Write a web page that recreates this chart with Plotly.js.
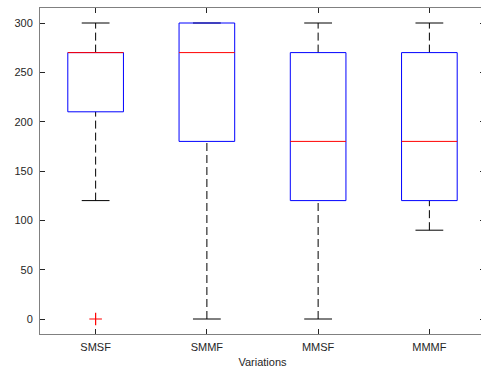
<!DOCTYPE html>
<html>
<head>
<meta charset="utf-8">
<script src="https://cdn.plot.ly/plotly-3.0.1.min.js"></script>
<style>
html, body { margin:0; padding:0; overflow:hidden; background:#fff; }
#chart { width:490px; height:372px; }
</style>
</head>
<body>
<div id="chart"></div>
<script>
const categories = ["SMSF", "SMMF", "MMSF", "MMMF"];
const lowerWhisker = [120, 0, 0, 90];
const q1 = [210, 180, 120, 120];
const median = [270, 270, 180, 180];
const q3 = [270, 300, 270, 270];
const upperWhisker = [300, 300, 300, 300];
const outlierCat = [1];
const outlierVal = [0];
const yTicks = [0, 50, 100, 150, 200, 250, 300];

const boxHalf = 0.25, capHalf = 0.125;
const bx = [], by = [], mx = [], my = [], wx = [], wy = [], cx = [], cy = [];
categories.forEach((c, k) => {
  const i = k + 1;
  bx.push(i - boxHalf, i + boxHalf, i + boxHalf, i - boxHalf, i - boxHalf, null);
  by.push(q1[k], q1[k], q3[k], q3[k], q1[k], null);
  mx.push(i - boxHalf, i + boxHalf, null);
  my.push(median[k], median[k], null);
  wx.push(i, i, null, i, i, null);
  wy.push(q3[k], upperWhisker[k], null, lowerWhisker[k], q1[k], null);
  cx.push(i - capHalf, i + capHalf, null, i - capHalf, i + capHalf, null);
  cy.push(upperWhisker[k], upperWhisker[k], null, lowerWhisker[k], lowerWhisker[k], null);
});

const traces = [
  {x: wx, y: wy, mode: 'lines', line: {color: '#000', width: 1, dash: '8px,4px'}, hoverinfo: 'skip'},
  {x: cx, y: cy, mode: 'lines', line: {color: '#000', width: 1}, hoverinfo: 'skip'},
  {x: bx, y: by, mode: 'lines', line: {color: '#0000ff', width: 1}, hoverinfo: 'skip'},
  {x: mx, y: my, mode: 'lines', line: {color: '#ff0000', width: 1}, hoverinfo: 'skip'},
  {x: outlierCat, y: outlierVal, mode: 'markers', marker: {symbol: 'cross-thin-open', size: 9, color: '#ff0000', line: {color: '#ff0000', width: 1.2}}, hoverinfo: 'skip'}
];

const axisCommon = {
  showline: true, mirror: 'ticks', linecolor: '#808080', linewidth: 1,
  ticks: 'inside', ticklen: 5, tickcolor: '#262626', tickwidth: 1,
  showgrid: false, zeroline: false,
  tickfont: {family: 'Liberation Sans, Arial, sans-serif', size: 11, color: '#262626'}
};

const layout = {
  width: 490, height: 372,
  margin: {l: 40, r: 5, t: 8, b: 38},
  showlegend: false,
  paper_bgcolor: '#fff', plot_bgcolor: '#fff',
  xaxis: Object.assign({}, axisCommon, {
    range: [0.5, 4.5],
    tickvals: categories.map((c, k) => k + 1),
    ticktext: categories,
    ticklabelstandoff: 3,
    title: {text: 'Variations', standoff: 6, font: {family: 'Liberation Sans, Arial, sans-serif', size: 11, color: '#262626'}}
  }),
  yaxis: Object.assign({}, axisCommon, {
    range: [-15.2, 315.2],
    tickvals: yTicks,
    ticklabelstandoff: 4
  })
};

Plotly.newPlot('chart', traces, layout, {staticPlot: true, displayModeBar: false});
</script>
</body>
</html>
